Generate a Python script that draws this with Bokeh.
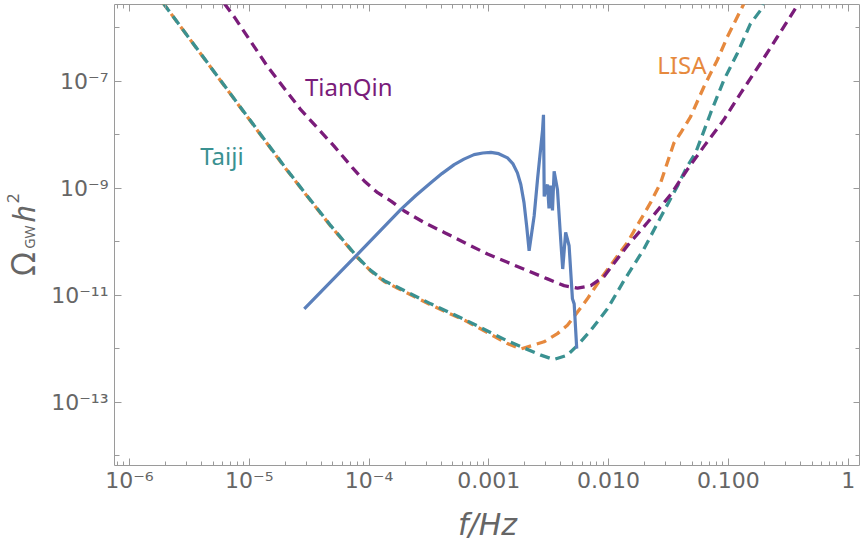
import math
from bokeh.plotting import figure
from bokeh.layouts import row
from bokeh.models import FixedTicker, CustomJSTickFormatter, LogAxis, Label, Range1d
from bokeh.core.properties import value
from bokeh.embed import file_html
from bokeh.resources import INLINE

# ---------------- data ----------------
lisa_f = [1.6e-6, 1.95e-6, 1.963e-5, 2.98e-5, 4.81e-5, 8.04e-5, 1.038e-4, 1.34e-4,
          1.734e-4, 3.28e-4, 6.64e-4, 1.432e-3, 1.85e-3, 2.89e-3, 3.74e-3, 4.53e-3,
          5.50e-3, 6.65e-3, 8.59e-3, 1.436e-2, 2.24e-2, 2.72e-2, 3.51e-2, 3.99e-2,
          4.84e-2, 6.25e-2, 8.07e-2, 9.8e-2, 0.1346, 0.147]
lisa_omega = [4.9e-6, 2.69e-6, 2.5e-9, 7.5e-10, 1.93e-10, 5.0e-11, 2.8e-11, 1.8e-11,
              1.35e-11, 6.6e-12, 3.2e-12, 1.25e-12, 9.9e-13, 1.35e-12, 1.92e-12, 2.74e-12,
              4.85e-12, 8.57e-12, 2.02e-11, 9.7e-11, 5.36e-10, 1.26e-9, 6.97e-9, 1.07e-8,
              2.17e-8, 7.84e-8, 2.45e-7, 6.65e-7, 2.77e-6, 4.5e-6]

taiji_f = [1.6e-6, 1.95e-6, 1.963e-5, 2.98e-5, 4.81e-5, 8.04e-5, 1.038e-4, 1.34e-4,
           1.734e-4, 3.28e-4, 6.64e-4, 1.432e-3, 2.72e-3, 3.48e-3, 4.53e-3, 5.50e-3,
           7.10e-3, 9.77e-3, 1.343e-2, 1.97e-2, 2.72e-2, 3.75e-2, 4.54e-2, 5.32e-2,
           5.86e-2, 7.10e-2, 9.16e-2, 0.1186, 0.153, 0.185, 0.216]
taiji_omega = [4.9e-6, 2.69e-6, 2.56e-9, 7.63e-10, 1.97e-10, 5.1e-11, 2.88e-11, 1.87e-11,
               1.41e-11, 6.9e-12, 3.3e-12, 1.4e-12, 7.6e-13, 6.3e-13, 7.6e-13, 1.16e-12,
               2.21e-12, 5.58e-12, 1.87e-11, 7.3e-11, 2.86e-10, 1.09e-9, 2.56e-9, 4.54e-9,
               8.0e-9, 2.51e-8, 1.04e-7, 3.27e-7, 1.18e-6, 2.08e-6, 4.5e-6]

tianqin_f = [5.16e-6, 7.52e-6, 1.425e-5, 2.70e-5, 5.13e-5, 7.29e-5, 9.12e-5, 1.18e-4,
             1.525e-4, 1.97e-4, 2.88e-4, 4.24e-4, 6.64e-4, 9.75e-4, 1.432e-3, 2.10e-3,
             3.09e-3, 4.25e-3, 5.50e-3, 7.10e-3, 9.16e-3, 1.436e-2, 2.11e-2, 3.30e-2,
             4.54e-2, 6.25e-2, 9.16e-2, 0.1265, 0.185, 0.256, 0.376, 0.449]
tianqin_omega = [4.9e-6, 1.56e-6, 1.85e-7, 2.89e-8, 6.03e-9, 2.39e-9, 1.36e-9, 8.22e-10,
                 5.74e-10, 3.74e-10, 2.28e-10, 1.49e-10, 9.0e-11, 5.87e-11, 4.12e-11, 2.88e-11,
                 2.02e-11, 1.51e-11, 1.36e-11, 1.51e-11, 2.25e-11, 8.4e-11, 2.28e-10, 7.6e-10,
                 2.22e-9, 6.03e-9, 1.89e-8, 5.9e-8, 2.13e-7, 6.65e-7, 2.58e-6, 4.7e-6]

signal_f = [2.88e-5, 8.04e-5, 1.845e-4, 2.46e-4, 3.28e-4, 4.06e-4, 5.14e-4, 6.2e-4,
            7.53e-4, 8.91e-4, 1.04e-3, 1.21e-3, 1.432e-3, 1.585e-3, 1.733e-3, 1.85e-3,
            1.967e-3, 2.075e-3, 2.17e-3, 2.39e-3, 2.55e-3, 2.81e-3, 2.86e-3, 2.90e-3,
            3.09e-3, 3.18e-3, 3.29e-3, 3.40e-3, 3.51e-3, 3.74e-3, 3.98e-3, 4.14e-3,
            4.38e-3, 4.68e-3, 4.99e-3, 5.16e-3, 5.42e-3]
signal_omega = [5.58e-12, 5.87e-11, 4.02e-10, 7.3e-10, 1.26e-9, 1.87e-9, 2.75e-9, 3.48e-9,
                4.23e-9, 4.54e-9, 4.67e-9, 4.4e-9, 3.67e-9, 2.88e-9, 1.93e-9, 1.17e-9,
                5.36e-10, 1.86e-10, 6.76e-11, 3.02e-10, 1.45e-9, 1.23e-8, 2.34e-8, 7.0e-10,
                1.17e-9, 4.2e-10, 1.12e-9, 3.85e-10, 2.07e-9, 9.46e-10, 1.11e-10, 3.09e-11,
                1.49e-10, 8.4e-11, 8.57e-12, 6.9e-12, 1.01e-12]

x_tick_exps = [-6, -5, -4, -3, -2, -1, 0]
x_tick_labels = ["10\u207b\u2076", "10\u207b\u2075", "10\u207b\u2074", "0.001", "0.010", "0.100", "1"]
y_tick_exps = [-7, -9, -11, -13]
y_tick_labels = ["10\u207b\u2077", "10\u207b\u2079", "10\u207b\u00b9\u00b9", "10\u207b\u00b9\u00b3"]
y_minor_exps = [-6, -8, -10, -12, -14]

# y-axis title pieces: text, size(px), style
ytitle_parts = [("\u03a9", 32, "normal"), ("GW", 14, "normal"), ("h", 30, "italic"), ("2", 17, "normal")]

# ---------------- styling ----------------
FONT = "Noto Sans"
TICK_FONT = "DejaVu Sans"
GRAY = "#666666"
FRAME = "#9a9a9a"
C_LISA = "#E6893E"
C_TAIJI = "#3A9191"
C_TIANQIN = "#7A1C7A"
C_SIGNAL = "#5B80BB"
DASH = "10 6"

XMIN, XMAX = 10 ** -6.125, 10 ** 0.103
YMIN, YMAX = 10 ** -14.18, 10 ** -5.57

p = figure(width=812, height=544, x_axis_type="log", y_axis_type="log",
           x_range=Range1d(XMIN, XMAX), y_range=Range1d(YMIN, YMAX),
           output_backend="svg", toolbar_location=None,
           min_border_left=65, min_border_right=0, min_border_top=4, min_border_bottom=76)
p.grid.visible = False
p.outline_line_color = FRAME
p.outline_line_width = 1
p.background_fill_color = "white"
p.border_fill_color = "white"

x_major = [10.0 ** e for e in x_tick_exps]
x_minor = [k * 10.0 ** e for e in range(-7, 1) for k in range(2, 10)
           if XMIN < k * 10.0 ** e < XMAX]
y_major = [10.0 ** e for e in y_tick_exps]
y_minor = [10.0 ** e for e in y_minor_exps]

JS = "const e = Math.round(Math.log10(tick)); const i = exps.indexOf(e); return i >= 0 ? labs[i] : '';"
xfmt = CustomJSTickFormatter(args=dict(exps=x_tick_exps, labs=x_tick_labels), code=JS)
yfmt = CustomJSTickFormatter(args=dict(exps=y_tick_exps, labs=y_tick_labels), code=JS)
blank = CustomJSTickFormatter(code="return '';")


def style_axis(ax, labels=True):
    ax.axis_line_color = None
    ax.major_tick_line_color = FRAME
    ax.minor_tick_line_color = FRAME
    ax.major_tick_in = 7
    ax.major_tick_out = 0
    ax.minor_tick_in = 4
    ax.minor_tick_out = 0
    ax.major_label_text_font = TICK_FONT
    ax.major_label_text_font_size = "22px"
    ax.major_label_text_color = GRAY
    if not labels:
        ax.major_label_standoff = 0
        ax.major_label_text_font_size = "0px"


p.xaxis.ticker = FixedTicker(ticks=x_major, minor_ticks=x_minor)
p.xaxis.formatter = xfmt
style_axis(p.xaxis[0])
p.xaxis.major_label_standoff = 2
p.xaxis.axis_label = "f/Hz"
p.xaxis.axis_label_text_font = "DejaVu Sans"
p.xaxis.axis_label_text_font_size = "30px"
p.xaxis.axis_label_text_font_style = "italic"
p.xaxis.axis_label_text_color = GRAY
p.xaxis.axis_label_standoff = 11

p.yaxis.ticker = FixedTicker(ticks=y_major, minor_ticks=y_minor)
p.yaxis.formatter = yfmt
style_axis(p.yaxis[0])
p.yaxis.major_label_standoff = 6
p.yaxis.minor_tick_in = 5

top = LogAxis(ticker=FixedTicker(ticks=x_major, minor_ticks=x_minor), formatter=blank)
style_axis(top, labels=False)
p.add_layout(top, "above")
right = LogAxis(ticker=FixedTicker(ticks=y_major, minor_ticks=y_minor), formatter=blank)
style_axis(right, labels=False)
right.minor_tick_in = 5
p.add_layout(right, "right")

# ---------------- curves ----------------
p.line(lisa_f, lisa_omega, line_color=C_LISA, line_width=3.3, line_dash=DASH, line_dash_offset=3)
p.line(taiji_f, taiji_omega, line_color=C_TAIJI, line_width=3.3, line_dash=DASH)
p.line(tianqin_f, tianqin_omega, line_color=C_TIANQIN, line_width=3.3, line_dash=DASH)
p.line(signal_f, signal_omega, line_color=C_SIGNAL, line_width=3.2)

# ---------------- curve labels ----------------
for txt, fx, oy, col in [("TianQin", 2.92e-5, 8.07e-8, C_TIANQIN),
                         ("Taiji", 3.89e-6, 4.05e-9, C_TAIJI),
                         ("LISA", 2.55e-2, 2.07e-7, C_LISA)]:
    p.add_layout(Label(x=fx, y=oy, text=txt, text_font=FONT, text_font_size="24px",
                       text_color=col, text_align="left", text_baseline="alphabetic"))

# ---------------- y axis title in its own narrow panel sharing the y scale ----------------
ylab = figure(width=48, height=544, x_range=Range1d(0, 48), y_range=p.y_range,
              y_axis_type="log", output_backend="svg", toolbar_location=None,
              x_axis_location=None, y_axis_location=None,
              min_border_left=0, min_border_right=0, min_border_top=4, min_border_bottom=76)
ylab.grid.visible = False
ylab.outline_line_color = None
ylab.border_fill_color = "white"
ylab.background_fill_color = "white"

rot = math.pi / 2
centres = [(22.1, 3.83e-11), (29.1, 1.215e-10), (22.9, 3.32e-10), (12.9, 6.44e-10)]
for (txt, size, style), (cx, cy) in zip(ytitle_parts, centres):
    ylab.text(x=[cx], y=[cy], text=[txt], angle=rot, text_align="center",
              text_baseline="middle", text_font=value(FONT),
              text_font_size=value(f"{size}px"), text_font_style=style,
              text_color=GRAY)

layout = row(ylab, p)
open("out.html", "w", encoding="utf-8").write(file_html(layout, INLINE))
